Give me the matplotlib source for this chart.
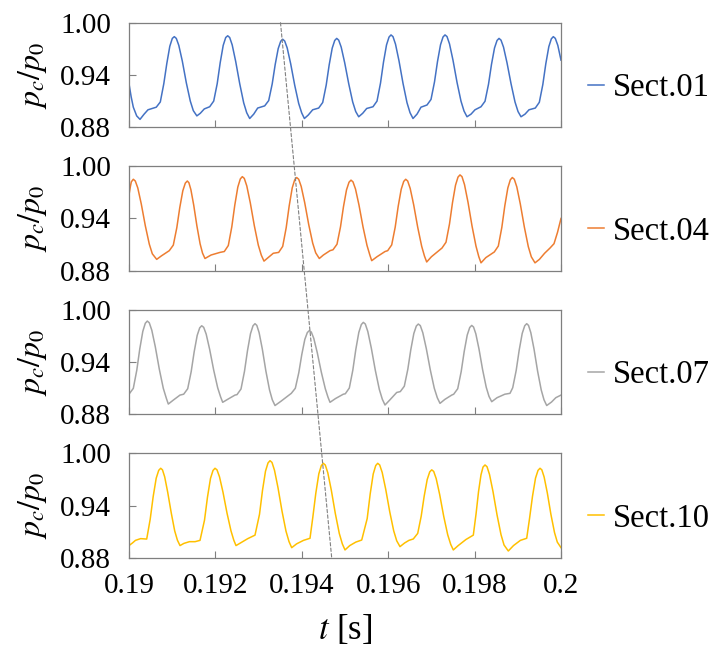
import matplotlib
matplotlib.use("Agg")
import matplotlib.pyplot as plt
from matplotlib.patches import ConnectionPatch

plt.rcParams['font.family'] = ['Liberation Serif', 'DejaVu Serif']
plt.rcParams['mathtext.fontset'] = 'stix'

# ---- data (time [s], p_c/p_0) ----
t_01 = [0.190000, 0.190050, 0.190100, 0.190178, 0.190255, 0.190350, 0.190440,
        0.190632, 0.190725, 0.190806, 0.190875, 0.190945, 0.191003, 0.191049,
        0.191095, 0.191153, 0.191234, 0.191327, 0.191419, 0.191489, 0.191571,
        0.191651, 0.191743,
        0.191868, 0.191961, 0.192042, 0.192111, 0.192181, 0.192239, 0.192285,
        0.192331, 0.192389, 0.192470, 0.192563, 0.192655, 0.192725, 0.192794,
        0.192887, 0.192979,
        0.193141, 0.193234, 0.193315, 0.193384, 0.193454, 0.193512, 0.193558,
        0.193604, 0.193662, 0.193743, 0.193836, 0.193928, 0.193998, 0.194060,
        0.194150, 0.194252,
        0.194391, 0.194484, 0.194565, 0.194634, 0.194704, 0.194762, 0.194808,
        0.194854, 0.194912, 0.194993, 0.195086, 0.195178, 0.195248, 0.195317,
        0.195410, 0.195502,
        0.195648, 0.195741, 0.195822, 0.195891, 0.195961, 0.196019, 0.196065,
        0.196111, 0.196169, 0.196250, 0.196343, 0.196435, 0.196505, 0.196574,
        0.196667, 0.196759,
        0.196898, 0.196991, 0.197072, 0.197141, 0.197211, 0.197269, 0.197315,
        0.197361, 0.197419, 0.197500, 0.197593, 0.197685, 0.197755, 0.197824,
        0.197917, 0.198009,
        0.198148, 0.198241, 0.198322, 0.198391, 0.198461, 0.198519, 0.198565,
        0.198611, 0.198669, 0.198750, 0.198843, 0.198935, 0.199005, 0.199074,
        0.199167, 0.199259,
        0.199405, 0.199498, 0.199579, 0.199648, 0.199718, 0.199776, 0.199822,
        0.199868, 0.199926, 0.200000]
p_01 = [0.930, 0.915, 0.903, 0.893, 0.889, 0.895, 0.900,
        0.903, 0.909, 0.930, 0.953, 0.973, 0.982, 0.984,
        0.982, 0.974, 0.956, 0.931, 0.910, 0.899, 0.893,
        0.896, 0.901,
        0.9035, 0.910, 0.930, 0.954, 0.974, 0.983, 0.985,
        0.983, 0.9745, 0.9555, 0.930, 0.908, 0.8966, 0.890,
        0.895, 0.902,
        0.9045, 0.9106, 0.9297, 0.9519, 0.9703, 0.9787, 0.981,
        0.979, 0.971, 0.9528, 0.9282, 0.9073, 0.8964, 0.890,
        0.894, 0.900,
        0.902, 0.9084, 0.9284, 0.9516, 0.9708, 0.9796, 0.982,
        0.980, 0.972, 0.954, 0.930, 0.909, 0.898, 0.892,
        0.896, 0.9015,
        0.9035, 0.910, 0.9307, 0.9547, 0.9745, 0.9835, 0.986,
        0.984, 0.9754, 0.9562, 0.9303, 0.9082, 0.8967, 0.890,
        0.895, 0.903,
        0.9055, 0.9119, 0.9321, 0.9554, 0.9747, 0.9836, 0.986,
        0.9841, 0.9757, 0.9569, 0.9315, 0.9099, 0.8986, 0.892,
        0.895, 0.900,
        0.9035, 0.9098, 0.9294, 0.9522, 0.971, 0.9796, 0.982,
        0.980, 0.972, 0.954, 0.930, 0.909, 0.898, 0.892,
        0.895, 0.900,
        0.902, 0.9086, 0.929, 0.9528, 0.9725, 0.9815, 0.984,
        0.982, 0.974, 0.957]

t_04 = [0.190000, 0.190030, 0.190054, 0.190100,
        0.190146, 0.190204, 0.190285, 0.190378, 0.190470, 0.190540, 0.190641,
        0.190750,
        0.190933, 0.191026, 0.191107, 0.191176, 0.191246, 0.191304, 0.191350,
        0.191387, 0.191433, 0.191498, 0.191572, 0.191646, 0.191702, 0.191759,
        0.191900, 0.192106,
        0.192206, 0.192299, 0.192380, 0.192449, 0.192519, 0.192577, 0.192623,
        0.192669, 0.192727, 0.192808, 0.192901, 0.192993, 0.193063, 0.193125,
        0.193220, 0.193340,
        0.193465, 0.193558, 0.193639, 0.193708, 0.193778, 0.193836, 0.193882,
        0.193928, 0.193986, 0.194067, 0.194160, 0.194252, 0.194322, 0.194405,
        0.194500, 0.194653,
        0.194722, 0.194815, 0.194896, 0.194965, 0.195035, 0.195093, 0.195139,
        0.195185, 0.195243, 0.195324, 0.195417, 0.195509, 0.195575, 0.195618,
        0.195740, 0.195926,
        0.195988, 0.196081, 0.196162, 0.196231, 0.196301, 0.196359, 0.196405,
        0.196451, 0.196509, 0.196590, 0.196683, 0.196775, 0.196840, 0.196891,
        0.197000,
        0.197245, 0.197338, 0.197419, 0.197488, 0.197558, 0.197616, 0.197662,
        0.197708, 0.197766, 0.197847, 0.197940, 0.198032, 0.198097, 0.198148,
        0.198260,
        0.198456, 0.198549, 0.198630, 0.198699, 0.198769, 0.198827, 0.198873,
        0.198919, 0.198977, 0.199058, 0.199151, 0.199243, 0.199313, 0.199398,
        0.199500, 0.199620, 0.199745, 0.199838, 0.199919, 0.200000]
p_04 = [0.967, 0.976, 0.982, 0.985,
        0.983, 0.975, 0.9565, 0.9316, 0.9105, 0.8994, 0.893,
        0.897,
        0.903, 0.9094, 0.9294, 0.9526, 0.9718, 0.9806, 0.983,
        0.981, 0.973, 0.9554, 0.9314, 0.9109, 0.9002, 0.894,
        0.898, 0.901,
        0.902, 0.9089, 0.9304, 0.9553, 0.976, 0.9854, 0.988,
        0.986, 0.9773, 0.9579, 0.9317, 0.9094, 0.8978, 0.891,
        0.895, 0.900,
        0.901, 0.9079, 0.9294, 0.9543, 0.975, 0.9844, 0.987,
        0.985, 0.9768, 0.9582, 0.933, 0.9117, 0.9005, 0.894,
        0.898, 0.903,
        0.904, 0.9104, 0.9304, 0.9536, 0.9728, 0.9816, 0.984,
        0.982, 0.9738, 0.9553, 0.9303, 0.9091, 0.898, 0.8915,
        0.896, 0.902,
        0.903, 0.9096, 0.930, 0.9538, 0.9735, 0.9825, 0.985,
        0.983, 0.9745, 0.9556, 0.9299, 0.908, 0.8967, 0.890,
        0.896,
        0.906, 0.9127, 0.9337, 0.9581, 0.9782, 0.9875, 0.990,
        0.988, 0.9789, 0.9587, 0.9314, 0.9082, 0.8961, 0.889,
        0.895,
        0.9015, 0.9083, 0.9297, 0.9545, 0.975, 0.9844, 0.987,
        0.985, 0.9762, 0.9566, 0.9302, 0.9076, 0.8959, 0.889,
        0.893, 0.900, 0.906, 0.911, 0.924, 0.940]

t_07 = [0.190000, 0.190100, 0.190181, 0.190250, 0.190320, 0.190378, 0.190424,
        0.190470, 0.190528, 0.190609, 0.190702, 0.190794, 0.190864, 0.190910,
        0.191020, 0.191181,
        0.191266, 0.191359, 0.191440, 0.191509, 0.191579, 0.191637, 0.191683,
        0.191729, 0.191787, 0.191868, 0.191961, 0.192053, 0.192120, 0.192169,
        0.192280, 0.192454,
        0.192500, 0.192593, 0.192674, 0.192743, 0.192813, 0.192871, 0.192917,
        0.192959, 0.193012, 0.193086, 0.193169, 0.193253, 0.193317, 0.193380,
        0.193520,
        0.193757, 0.193850, 0.193931, 0.194000, 0.194070, 0.194128, 0.194174,
        0.194220, 0.194278, 0.194359, 0.194452, 0.194544, 0.194607, 0.194653,
        0.194780, 0.194961,
        0.195007, 0.195100, 0.195181, 0.195250, 0.195320, 0.195378, 0.195424,
        0.195470, 0.195528, 0.195609, 0.195702, 0.195794, 0.195864, 0.195926,
        0.196030, 0.196197,
        0.196280, 0.196373, 0.196454, 0.196523, 0.196593, 0.196651, 0.196697,
        0.196743, 0.196801, 0.196882, 0.196975, 0.197067, 0.197137, 0.197199,
        0.197310, 0.197470,
        0.197516, 0.197609, 0.197690, 0.197759, 0.197829, 0.197887, 0.197933,
        0.197975, 0.198028, 0.198102, 0.198185, 0.198269, 0.198333, 0.198396,
        0.198520, 0.198700,
        0.198819, 0.198882, 0.198963, 0.199032, 0.199102, 0.199160, 0.199206,
        0.199248, 0.199301, 0.199375, 0.199458, 0.199542, 0.199606, 0.199669,
        0.199780, 0.199880, 0.200000]
p_07 = [0.903, 0.9097, 0.9307, 0.9551, 0.9752, 0.9845, 0.987,
        0.985, 0.9765, 0.9575, 0.9317, 0.9098, 0.8984, 0.8917,
        0.896, 0.902,
        0.903, 0.9093, 0.929, 0.9517, 0.9706, 0.9792, 0.9816,
        0.9798, 0.972, 0.9543, 0.9306, 0.9104, 0.900, 0.8937,
        0.897, 0.902,
        0.9025, 0.909, 0.9294, 0.953, 0.9726, 0.9816, 0.984,
        0.982, 0.9737, 0.9549, 0.9295, 0.9079, 0.8966, 0.890,
        0.895,
        0.904, 0.9098, 0.9278, 0.9486, 0.9659, 0.9738, 0.976,
        0.9744, 0.967, 0.9505, 0.9283, 0.9093, 0.8995, 0.8937,
        0.898, 0.903,
        0.9035, 0.9101, 0.9306, 0.9543, 0.974, 0.983, 0.9855,
        0.9836, 0.975, 0.956, 0.9304, 0.9086, 0.8972, 0.8906,
        0.896, 0.905,
        0.906, 0.9122, 0.9316, 0.9541, 0.9727, 0.9813, 0.9836,
        0.9818, 0.9736, 0.9554, 0.9308, 0.9098, 0.8989, 0.8925,
        0.897, 0.902,
        0.903, 0.9093, 0.9291, 0.952, 0.9709, 0.9796, 0.982,
        0.9802, 0.9724, 0.9548, 0.9312, 0.911, 0.9005, 0.8944,
        0.899, 0.903,
        0.904, 0.9104, 0.9304, 0.9536, 0.9728, 0.9816, 0.984,
        0.982, 0.9737, 0.9549, 0.9295, 0.9079, 0.8966, 0.890,
        0.894, 0.899, 0.902]

t_10 = [0.190000, 0.190080, 0.190150, 0.190270,
        0.190410, 0.190491, 0.190560, 0.190630, 0.190688, 0.190734,
        0.190775, 0.190826, 0.190896, 0.190979, 0.191058, 0.191121, 0.191181,
        0.191270, 0.191400, 0.191530,
        0.191644, 0.191748, 0.191817, 0.191887, 0.191945, 0.191991,
        0.192037, 0.192095, 0.192176, 0.192269, 0.192361, 0.192426, 0.192477,
        0.192580, 0.192750,
        0.192917, 0.193021, 0.193090, 0.193160, 0.193218, 0.193264,
        0.193310, 0.193368, 0.193449, 0.193542, 0.193634, 0.193704, 0.193766,
        0.193880, 0.194040,
        0.194190, 0.194255, 0.194324, 0.194394, 0.194452, 0.194498,
        0.194544, 0.194602, 0.194683, 0.194776, 0.194868, 0.194938, 0.195000,
        0.195110, 0.195250,
        0.195387, 0.195514, 0.195583, 0.195653, 0.195711, 0.195757,
        0.195803, 0.195861, 0.195942, 0.196035, 0.196127, 0.196197, 0.196273,
        0.196380, 0.196480,
        0.196581, 0.196683, 0.196764, 0.196833, 0.196903, 0.196961, 0.197007,
        0.197053, 0.197111, 0.197192, 0.197285, 0.197377, 0.197447, 0.197507,
        0.197620, 0.197800,
        0.197970, 0.198033, 0.198091, 0.198148, 0.198195, 0.198241,
        0.198287, 0.198345, 0.198426, 0.198519, 0.198611, 0.198681, 0.198780,
        0.198900, 0.199060,
        0.199206, 0.199271, 0.199340, 0.199410, 0.199468, 0.199514,
        0.199556, 0.199609, 0.199683, 0.199766, 0.199850, 0.199914, 0.200000]
p_10 = [0.894, 0.897, 0.900, 0.902,
        0.9015, 0.9243, 0.9503, 0.9714, 0.9804, 0.9828,
        0.981, 0.973, 0.9553, 0.9313, 0.9109, 0.9002, 0.894,
        0.8965, 0.8985, 0.8985,
        0.900, 0.9232, 0.9497, 0.9712, 0.9803, 0.9828,
        0.981, 0.973, 0.9553, 0.9313, 0.9109, 0.9002, 0.894,
        0.897, 0.902,
        0.906, 0.9299, 0.9573, 0.9795, 0.9889, 0.9915,
        0.9895, 0.9805, 0.9605, 0.9336, 0.9106, 0.8986, 0.8916,
        0.896, 0.900,
        0.9024, 0.9265, 0.954, 0.9764, 0.9859, 0.9885,
        0.9865, 0.9776, 0.9577, 0.9308, 0.9079, 0.896, 0.889,
        0.894, 0.898,
        0.9004, 0.9251, 0.9533, 0.9762, 0.9859, 0.9885,
        0.9866, 0.978, 0.9588, 0.933, 0.911, 0.8995, 0.8928,
        0.897, 0.900,
        0.9016, 0.908, 0.9278, 0.9508, 0.9699, 0.9786, 0.981,
        0.9792, 0.9709, 0.9525, 0.9276, 0.9065, 0.8954, 0.889,
        0.894, 0.901,
        0.906, 0.9302, 0.956, 0.9753, 0.9842, 0.9866,
        0.9846, 0.9757, 0.956, 0.9293, 0.9066, 0.8947, 0.8878,
        0.894, 0.900,
        0.9024, 0.9249, 0.9506, 0.9715, 0.9804, 0.9828,
        0.981, 0.9728, 0.9545, 0.9299, 0.9089, 0.898, 0.8916]

series = [(t_01, p_01, 'Sect.01', '#4472C4'),
          (t_04, p_04, 'Sect.04', '#ED7D31'),
          (t_07, p_07, 'Sect.07', '#A5A5A5'),
          (t_10, p_10, 'Sect.10', '#FFC000')]

x_ticks = [0.19, 0.192, 0.194, 0.196, 0.198, 0.2]
x_ticklabels = ['0.19', '0.192', '0.194', '0.196', '0.198', '0.2']
y_ticks = [0.88, 0.94, 1.00]
y_ticklabels = ['0.88', '0.94', '1.00']

# dashed phase line: time where it leaves the top panel / enters the bottom edge
phase_t = [0.193507, 0.194692]

fig = plt.figure(figsize=(7.21, 6.51), dpi=100)

left, width, height = 0.1789, 0.5992, 0.1605
bottoms = [0.8046, 0.5842, 0.3637, 0.1432]
axes = []
for i, (t, p, name, col) in enumerate(series):
    ax = fig.add_axes([left, bottoms[i], width, height])
    ax.plot(t, p, color=col, lw=1.1, label=name, solid_joinstyle='round')
    ax.set_xlim(0.19, 0.2)
    ax.set_ylim(0.88, 1.00)
    ax.set_xticks(x_ticks)
    ax.set_yticks(y_ticks)
    ax.set_yticklabels(y_ticklabels)
    ax.tick_params(direction='in', length=5, width=0.8, color='#7f7f7f',
                   labelsize=21)
    ax.tick_params(axis='y', pad=13)
    ax.tick_params(axis='x', pad=11)
    if i == len(series) - 1:
        ax.set_xticklabels(x_ticklabels)
        ax.set_xlabel(r'$t$ [s]', fontsize=25, labelpad=10)
    else:
        ax.set_xticklabels([])
    ax.set_ylabel(r'$p_c/p_0$', fontsize=23, labelpad=8)
    for s in ax.spines.values():
        s.set_color('#7f7f7f')
        s.set_linewidth(0.9)
    ax.legend(loc='center left', bbox_to_anchor=(1.0625, 0.375), frameon=False,
              fontsize=23.5, handlelength=0.49, handletextpad=0.28,
              borderpad=0, borderaxespad=0)
    axes.append(ax)

con = ConnectionPatch(xyA=(phase_t[0], 1.00), coordsA=axes[0].transData,
                      xyB=(phase_t[1], 0.88), coordsB=axes[-1].transData,
                      linestyle=(0, (3, 2)), color='#808080', lw=0.8)
fig.add_artist(con)

fig.savefig('out.png', dpi=100)
